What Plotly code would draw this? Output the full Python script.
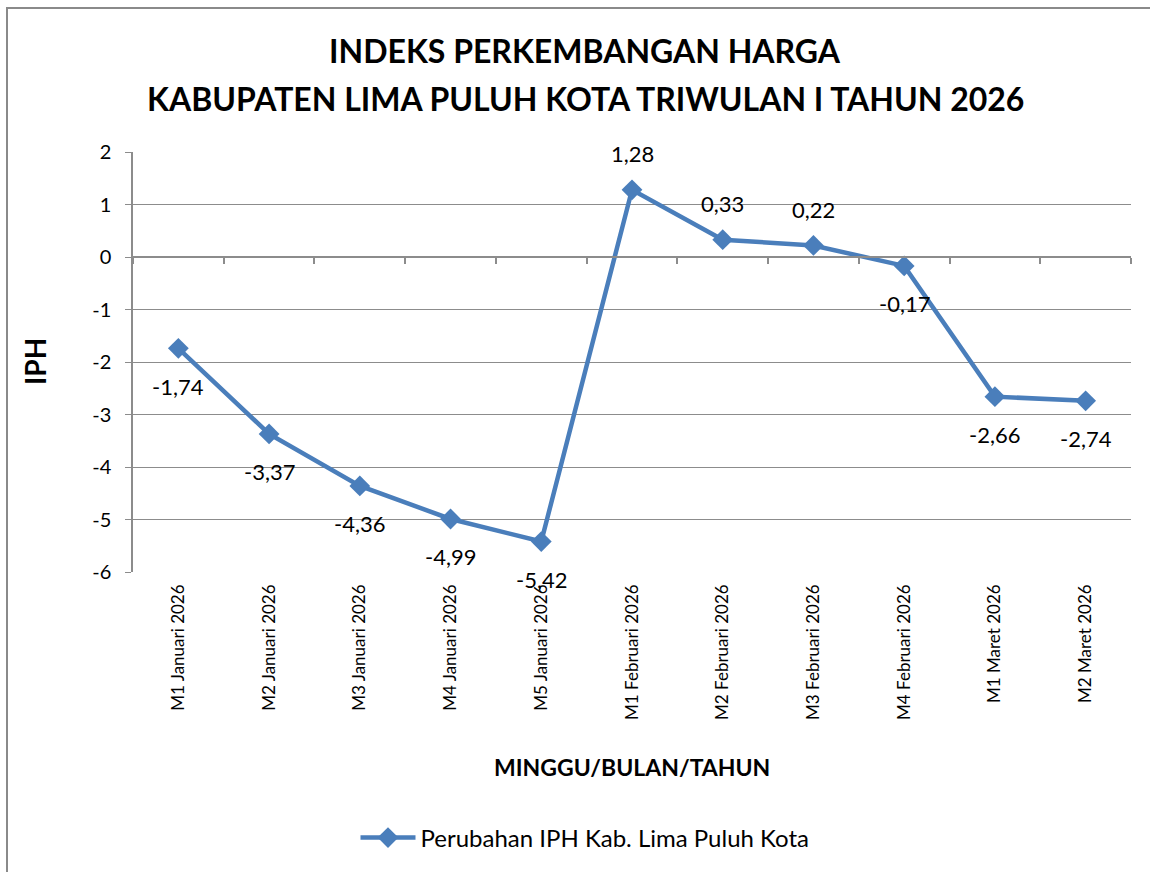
import plotly.graph_objects as go

categories = ["M1 Januari 2026", "M2 Januari 2026", "M3 Januari 2026", "M4 Januari 2026",
              "M5 Januari 2026", "M1 Februari 2026", "M2 Februari 2026", "M3 Februari 2026",
              "M4 Februari 2026", "M1 Maret 2026", "M2 Maret 2026"]
values = [-1.74, -3.37, -4.36, -4.99, -5.42, 1.28, 0.33, 0.22, -0.17, -2.66, -2.74]
series_name = "Perubahan IPH Kab. Lima Puluh Kota"
title_lines = ["INDEKS PERKEMBANGAN HARGA", "KABUPATEN LIMA PULUH KOTA TRIWULAN I TAHUN 2026"]
x_title = "MINGGU/BULAN/TAHUN"
y_title = "IPH"
y_ticks = [-6, -5, -4, -3, -2, -1, 0, 1, 2]
y_range = [-6, 2]

FONT = "Lato"
BLUE = "#4A7EBB"
GRID = "#8C8C8C"

W, H = 1150, 872
L, R, T, B = 133, 1131, 152, 572  # plot area in pixels
pw, ph = R - L, B - T


def px(x):
    return (x - L) / pw


def py(y):
    return (B - y) / ph


n = len(categories)
xs = list(range(n))

fig = go.Figure()
fig.add_trace(go.Scatter(
    x=xs, y=values, mode="lines+markers", name=series_name,
    line=dict(color=BLUE, width=4.5),
    marker=dict(symbol="diamond", size=16, color=BLUE),
    hoverinfo="skip",
))
# invisible helper trace for the crossing axis at y=0
fig.add_trace(go.Scatter(x=[xs[0]], y=[0], xaxis="x2", yaxis="y", mode="markers",
                         marker=dict(opacity=0), showlegend=False, hoverinfo="skip"))

annotations = []
for x, v in zip(xs, values):
    annotations.append(dict(
        x=x, y=v, xref="x", yref="y", showarrow=False,
        text=f"{v:.2f}".replace(".", ","),
        font=dict(family=FONT, size=22, color="black"),
        yshift=36 if v > 0 else -38,
    ))

for i, (line, ypix) in enumerate(zip(title_lines, [51, 98])):
    annotations.append(dict(
        x=px(585), y=py(ypix), xref="paper", yref="paper", showarrow=False,
        text=f"<b>{line}</b>", font=dict(family=FONT, size=32, color="black"),
        xanchor="center", yanchor="middle",
    ))
annotations.append(dict(
    x=px(632), y=py(767), xref="paper", yref="paper", showarrow=False,
    text=f"<b>{x_title}</b>", font=dict(family=FONT, size=23, color="black"),
    xanchor="center", yanchor="middle",
))
annotations.append(dict(
    x=px(35), y=py(362), xref="paper", yref="paper", showarrow=False,
    text=f"<b>{y_title}</b>", font=dict(family=FONT, size=28, color="black"),
    textangle=-90, xanchor="center", yanchor="middle",
))

fig.update_layout(
    width=W, height=H,
    margin=dict(l=L, r=W - R, t=T, b=H - B),
    paper_bgcolor="white", plot_bgcolor="white",
    font=dict(family=FONT, color="black"),
    showlegend=True,
    legend=dict(orientation="h", x=px(585), y=py(838), xanchor="center", yanchor="middle",
                font=dict(family=FONT, size=24, color="black"), itemwidth=55,
                bgcolor="rgba(0,0,0,0)"),
    xaxis=dict(
        range=[-0.5, n - 0.5], tickmode="array", tickvals=xs, ticktext=categories,
        tickangle=-90, ticks="", showgrid=False, zeroline=False, showline=False,
        tickfont=dict(family=FONT, size=17, color="black"), ticklabelstandoff=8,
    ),
    xaxis2=dict(
        overlaying="x", anchor="free", position=(0 - y_range[0]) / (y_range[1] - y_range[0]),
        range=[-0.5, n - 0.5], tickmode="array",
        tickvals=[i - 0.5 for i in range(n + 1)], ticks="outside", ticklen=6,
        tickcolor=GRID, tickwidth=1.5, showticklabels=False, showgrid=False, zeroline=False,
        showline=True, linecolor=GRID, linewidth=1.5,
    ),
    yaxis=dict(
        range=y_range, tickmode="array", tickvals=y_ticks, ticktext=[str(t) for t in y_ticks],
        showgrid=True, gridcolor=GRID, gridwidth=1.2,
        zeroline=False, showline=True, linecolor=GRID, linewidth=1.5,
        ticks="outside", ticklen=6, tickcolor=GRID, tickwidth=1.2,
        tickfont=dict(family=FONT, size=20, color="black"), ticklabelstandoff=10,
    ),
    annotations=annotations,
    shapes=[dict(type="rect", xref="paper", yref="paper",
                 x0=px(7), x1=px(W + 10), y0=py(H + 10), y1=py(8),
                 line=dict(color="#8A8A8A", width=2), fillcolor="rgba(0,0,0,0)", layer="below")],
)

fig.write_html("out.html", config={"displayModeBar": False},
               post_script="document.body.style.margin='0';document.body.style.overflow='hidden';")
